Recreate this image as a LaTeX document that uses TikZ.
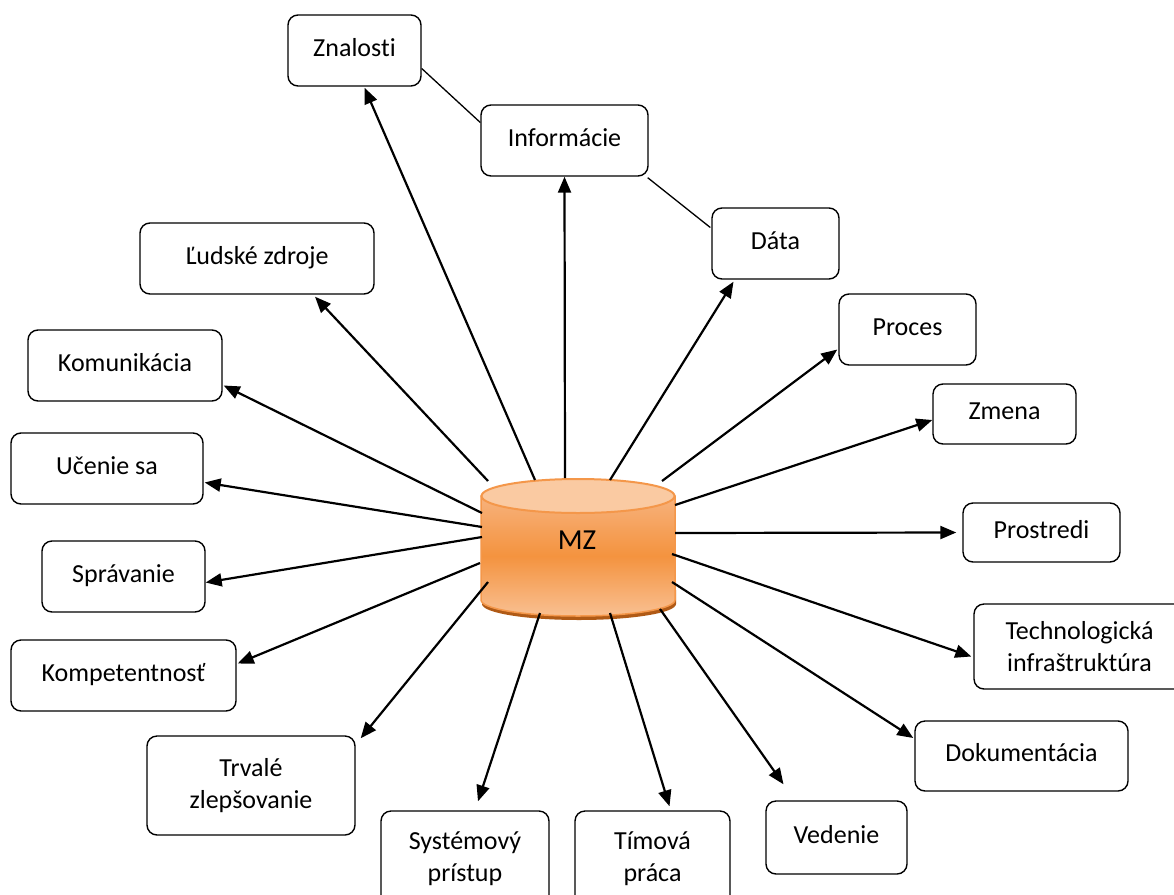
\documentclass[tikz,border=0pt]{standalone}
\usepackage{fontspec}
\setmainfont{Carlito}[Ligatures=NoCommon]
\usetikzlibrary{arrows.meta,calc}
\definecolor{rim}{HTML}{F4974A}
\definecolor{topfill}{HTML}{FACAA2}
\definecolor{baseshadow}{HTML}{B05A16}
\definecolor{bodytop}{HTML}{F7B27C}
\definecolor{bodymid}{HTML}{F4933F}
\definecolor{bodybot}{HTML}{F9C092}
\begin{document}
\begin{tikzpicture}[x=1pt,y=-1pt,
  box/.style={draw, line width=1.4pt, rounded corners=10pt, fill=white,
    align=center, inner sep=0pt, font=\fontsize{26}{32}\selectfont},
  oneline/.style={box, text height=19pt, text depth=8pt},
  arr/.style={line width=2.2pt, -{Triangle[length=16pt,width=13pt]}},
  link/.style={line width=1.3pt}]
\clip (0,0) rectangle (1174,894);
\fill[white] (0,0) rectangle (1174,894);

% --- central cylinder (MZ) ---
\fill[baseshadow] (482,590) -- (482,604)
  arc[start angle=180, end angle=0, x radius=97, y radius=16] -- (676,590) -- cycle;
\draw[rim, line width=1.5pt, top color=bodytop, bottom color=bodybot, middle color=bodymid]
  (481,496) -- (481,600)
  arc[start angle=180, end angle=0, x radius=97, y radius=16] -- (675,496) -- cycle;
\filldraw[fill=topfill, draw=rim, line width=2pt] (578,496) ellipse [x radius=96.5, y radius=17];
\node[font=\fontsize{29}{34}\selectfont, inner sep=0pt] (mz) at (577,540) {MZ};

% start points on the cylinder
\coordinate (sZna) at (535,480);
\coordinate (sInf) at (565,478);
\coordinate (sDat) at (610,480);
\coordinate (sLud) at (488,481);
\coordinate (sKom) at (482,513);
\coordinate (sUce) at (482,527);
\coordinate (sSpr) at (482,537);
\coordinate (sKmp) at (480,563);
\coordinate (sTrv) at (488,582);
\coordinate (sSys) at (540,613);
\coordinate (sTim) at (610,613);
\coordinate (sVed) at (660,609);
\coordinate (sDok) at (672,582);
\coordinate (sTec) at (672,554);
\coordinate (sPro) at (675,533);
\coordinate (sZme) at (675,505);
\coordinate (sPrc) at (662,481);

% --- surrounding boxes ---
\node[oneline, minimum width=133pt, minimum height=71pt] (zna) at (354.5,50.5) {Znalosti};
\node[oneline, minimum width=167pt, minimum height=71pt] (inf) at (564.5,140.5) {Informácie};
\node[oneline, minimum width=127pt, minimum height=71pt] (dat) at (775.5,243.5) {Dáta};
\node[oneline, minimum width=234pt, minimum height=71pt] (lud) at (257,258.5) {Ľudské zdroje};
\node[oneline, minimum width=137pt, minimum height=71pt] (prc) at (907.5,329.5) {Proces};
\node[oneline, minimum width=194pt, minimum height=71pt] (kom) at (125,365.5) {Komunikácia};
\node[oneline, minimum width=143pt, minimum height=60pt] (zme) at (1004.5,414) {Zmena};
\node[oneline, minimum width=192pt, minimum height=71pt] (uce) at (107,468.5) {Učenie sa};
\node[oneline, minimum width=157pt, minimum height=59pt] (pro) at (1041.5,532.5) {Prostredi};
\node[oneline, minimum width=163pt, minimum height=71pt] (spr) at (123.5,576.5) {Správanie};
\node[oneline, minimum width=225pt, minimum height=71pt] (kmp) at (123.5,675.5) {Kompetentnosť};
\node[box, minimum width=211pt, minimum height=85pt] (tec) at (1079.5,646.5) {Technologická\\infraštruktúra};
\node[oneline, minimum width=213pt, minimum height=70pt] (dok) at (1021.5,756) {Dokumentácia};
\node[box, minimum width=208pt, minimum height=99pt] (trv) at (251,785.5) {Trvalé\\zlepšovanie};
\node[box, minimum width=168pt, minimum height=95pt] (sys) at (465,858.5) {Systémový\\prístup};
\node[box, minimum width=155pt, minimum height=95pt] (tim) at (652.5,858.5) {Tímová\\práca};
\node[oneline, minimum width=141pt, minimum height=73pt] (ved) at (836.5,837.5) {Vedenie};

% --- plain links between the top boxes ---
\draw[link] ($(zna.east)+(0,18)$) -- ($(inf.west)+(0,-18)$);
\draw[link] ($(inf.south east)+(-1,1)$) -- ($(dat.west)+(-1,-16)$);

% --- arrows from the cylinder ---
\draw[arr] (sZna) -- ($(zna.south)+(10,1)$);
\draw[arr] (sInf) -- (inf.south);
\draw[arr] (sDat) -- ($(dat.south)+(-42,2)$);
\draw[arr] (sLud) -- ($(lud.south)+(58,2)$);
\draw[arr] (sKom) -- ($(kom.east)+(1,20)$);
\draw[arr] (sUce) -- ($(uce.east)+(1,14)$);
\draw[arr] (sSpr) -- ($(spr.east)+(0,6)$);
\draw[arr] (sKmp) -- ($(kmp.east)+(1,-12)$);
\draw[arr] (sTrv) -- ($(trv.north east)+(5,3)$);
\draw[arr] (sSys) -- ($(sys.north)+(13,-9)$);
\draw[arr] (sTim) -- ($(tim.north)+(17,-4)$);
\draw[arr] (sVed) -- ($(ved.north)+(-53,-16)$);
\draw[arr] (sDok) -- ($(dok.west)+(-1,-18)$);
\draw[arr] (sTec) -- ($(tec.west)+(-2,10)$);
\draw[arr] (sPro) -- ($(pro.west)+(-6,0)$);
\draw[arr] (sZme) -- ($(zme.west)+(0,6)$);
\draw[arr] (sPrc) -- ($(prc.west)+(-1,20)$);
\end{tikzpicture}
\end{document}
